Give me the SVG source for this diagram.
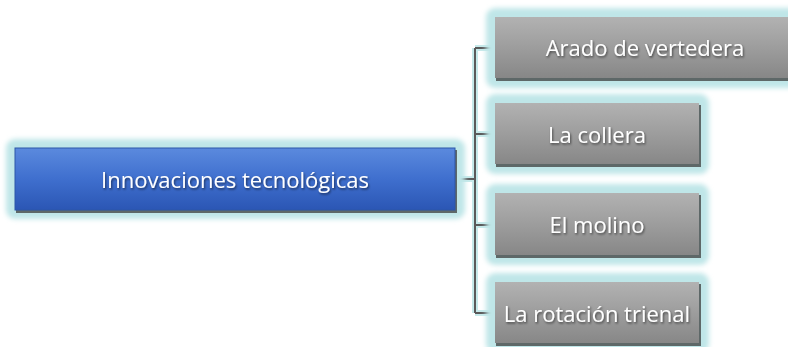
<svg xmlns="http://www.w3.org/2000/svg" width="788" height="347" viewBox="0 0 788 347">
<defs>
<linearGradient id="gBlue" x1="0" y1="0" x2="0" y2="1">
<stop offset="0" stop-color="#5b8ade"/><stop offset="0.5" stop-color="#3f6fce"/><stop offset="1" stop-color="#2b56b4"/>
</linearGradient>
<linearGradient id="gGray" x1="0" y1="0" x2="0" y2="1">
<stop offset="0" stop-color="#b2b2b2"/><stop offset="0.5" stop-color="#9d9d9d"/><stop offset="1" stop-color="#878787"/>
</linearGradient>
<filter id="glow" x="-10%" y="-30%" width="120%" height="160%">
<feGaussianBlur stdDeviation="2.5"/>
</filter>
<filter id="ts" x="-10%" y="-30%" width="120%" height="160%">
<feDropShadow dx="1" dy="1.5" stdDeviation="1" flood-color="#000" flood-opacity="0.55"/>
</filter>
</defs>
<style>
.halo{fill:#bfe6e8;filter:url(#glow)}
.shadow{fill:#3e3e3e;opacity:0.75}
.lbl{font-family:"Open Sans","Liberation Sans",sans-serif;font-size:22px;fill:#ffffff;text-anchor:middle;dominant-baseline:central;filter:url(#ts)}
.conn{fill:none;stroke:#5a5a5a;stroke-width:2}
.connHalo{fill:none;stroke:#c6e9ea;stroke-width:6}
</style>
<rect width="788" height="347" fill="#ffffff"/>
<g id="connectors">
<path class="connHalo" d="M455 179H475M475 48V313M475 48H495M475 134H495M475 225H495M475 313H495"/>
<path class="conn" d="M455 179H475M475 48V313M475 48H495M475 134H495M475 225H495M475 313H495"/>
</g>
<g id="main">
<rect class="halo" x="6" y="139" width="459" height="80" rx="9"/>
<rect class="shadow" x="16" y="150" width="441" height="63"/>
<rect x="15" y="148" width="440" height="62" fill="url(#gBlue)" stroke="#2d57a8" stroke-width="1"/>
<text class="lbl" x="235" y="179">Innovaciones tecnológicas</text>
</g>
<g id="n1">
<rect class="halo" x="486" y="8" width="322" height="80" rx="9"/>
<rect class="shadow" x="496" y="19" width="310" height="62"/>
<rect x="495" y="17" width="310" height="61" fill="url(#gGray)"/>
<text class="lbl" x="645" y="47">Arado de vertedera</text>
</g>
<g id="n2">
<rect class="halo" x="486" y="94" width="223" height="80" rx="9"/>
<rect class="shadow" x="496" y="105" width="205" height="62"/>
<rect x="495" y="103" width="204" height="61" fill="url(#gGray)"/>
<text class="lbl" x="597" y="134">La collera</text>
</g>
<g id="n3">
<rect class="halo" x="486" y="184" width="223" height="81" rx="9"/>
<rect class="shadow" x="496" y="195" width="205" height="63"/>
<rect x="495" y="193" width="204" height="62" fill="url(#gGray)"/>
<text class="lbl" x="597" y="224">El molino</text>
</g>
<g id="n4">
<rect class="halo" x="486" y="273" width="223" height="80" rx="9"/>
<rect class="shadow" x="496" y="284" width="205" height="62"/>
<rect x="495" y="282" width="204" height="61" fill="url(#gGray)"/>
<text class="lbl" x="597" y="313">La rotación trienal</text>
</g>
</svg>
